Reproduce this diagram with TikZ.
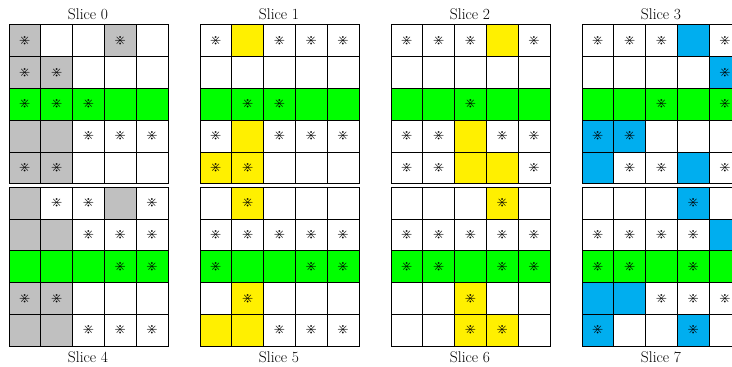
\documentclass[tikz,border=0pt]{standalone}
\usepackage{amssymb}
\definecolor{colW}{RGB}{255,255,255}
\definecolor{colG}{RGB}{192,192,192}
\definecolor{colE}{RGB}{0,255,0}
\definecolor{colY}{RGB}{255,240,0}
\definecolor{colB}{RGB}{0,174,239}
\newcommand\drawslice[4]{%
  \foreach \f/\s [count=\i from 0] in {#4} {
    \pgfmathtruncatemacro\cc{mod(\i,5)}
    \pgfmathtruncatemacro\rr{div(\i,5)}
    \node[cell, fill=col\f] (s#1c\i) at ({#2+\cc*31.8},{#3+\rr*31.8}) {\ifnum\s=1 $\divideontimes$\fi};
  }%
}
\begin{document}
\begin{tikzpicture}[x=1pt,y=-1pt,
  cell/.style={draw=black, line width=0.8pt, minimum size=31.8pt, inner sep=0pt, anchor=north west, font=\fontsize{15}{18}\selectfont},
  lbl/.style={anchor=base, font=\fontsize{15.5}{18}\selectfont}]
\clip (0,0) rectangle (732,367);
\fill[white] (0,0) rectangle (732,367);
\drawslice{0}{8.5}{24.3}{G/1,W/0,W/0,G/1,W/0, G/1,G/1,W/0,W/0,W/0, E/1,E/1,E/1,E/0,E/0, G/0,G/0,W/1,W/1,W/1, G/1,G/1,W/0,W/0,W/0}
\drawslice{1}{199.5}{24.3}{W/1,Y/0,W/1,W/1,W/1, W/0,W/0,W/0,W/0,W/0, E/0,E/1,E/1,E/0,E/0, W/1,Y/0,W/1,W/1,W/1, Y/1,Y/1,W/0,W/0,W/0}
\drawslice{2}{390.5}{24.3}{W/1,W/1,W/1,Y/0,W/1, W/0,W/0,W/0,W/0,W/0, E/0,E/0,E/1,E/0,E/0, W/1,W/1,Y/0,W/1,W/1, W/1,W/1,Y/0,Y/0,W/1}
\drawslice{3}{581.5}{24.3}{W/1,W/1,W/1,B/0,W/1, W/0,W/0,W/0,W/0,B/1, E/0,E/0,E/1,E/0,E/1, B/1,B/1,W/0,W/0,W/0, B/0,W/1,W/1,B/0,W/1}
\drawslice{4}{8.5}{186.7}{G/0,W/1,W/1,G/0,W/1, G/0,G/0,W/1,W/1,W/1, E/0,E/0,E/0,E/1,E/1, G/1,G/1,W/0,W/0,W/0, G/0,G/0,W/1,W/1,W/1}
\drawslice{5}{199.5}{186.7}{W/0,Y/1,W/0,W/0,W/0, W/1,W/1,W/1,W/1,W/1, E/1,E/0,E/0,E/1,E/1, W/0,Y/1,W/0,W/0,W/0, Y/0,Y/0,W/1,W/1,W/1}
\drawslice{6}{390.5}{186.7}{W/0,W/0,W/0,Y/1,W/0, W/1,W/1,W/1,W/1,W/1, E/1,E/1,E/0,E/1,E/1, W/0,W/0,Y/1,W/0,W/0, W/0,W/0,Y/1,Y/1,W/0}
\drawslice{7}{581.5}{186.7}{W/0,W/0,W/0,B/1,W/0, W/1,W/1,W/1,W/1,B/0, E/1,E/1,E/0,E/1,E/0, B/0,B/0,W/1,W/1,W/1, B/1,W/0,W/0,B/1,W/0}
\node[lbl] (t0) at (88,19) {Slice 0};
\node[lbl] (t1) at (279,19) {Slice 1};
\node[lbl] (t2) at (470,19) {Slice 2};
\node[lbl] (t3) at (661,19) {Slice 3};
\node[lbl] (t4) at (88,362) {Slice 4};
\node[lbl] (t5) at (279,362) {Slice 5};
\node[lbl] (t6) at (470,362) {Slice 6};
\node[lbl] (t7) at (661,362) {Slice 7};
\end{tikzpicture}
\end{document}
